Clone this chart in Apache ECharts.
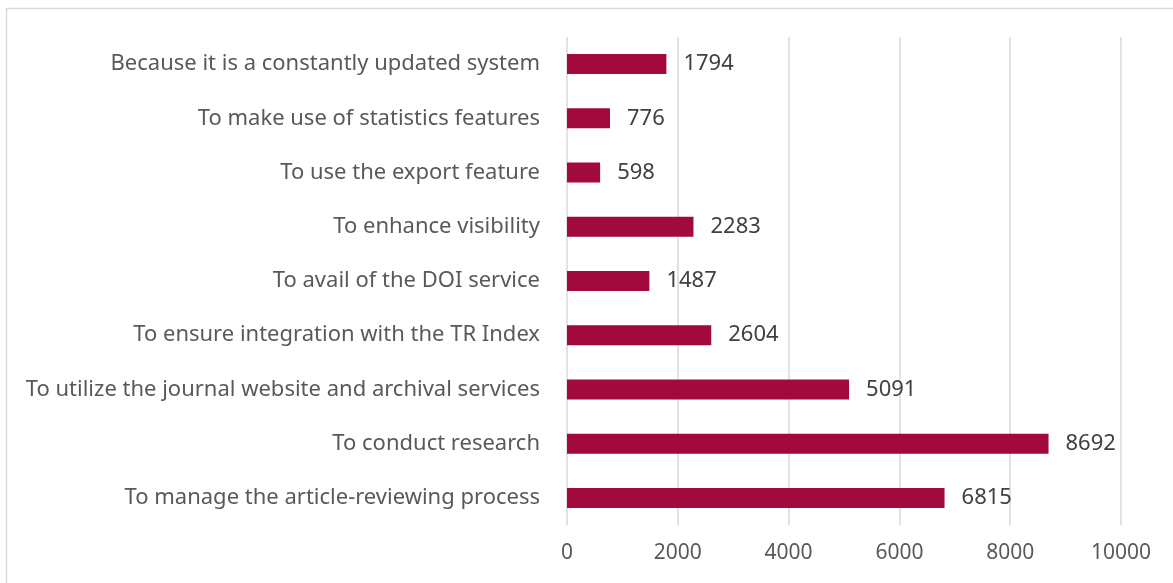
<!DOCTYPE html>
<html>
<head>
<meta charset="utf-8">
<script src="https://cdn.jsdelivr.net/npm/echarts@6/dist/echarts.min.js"></script>
<style>
  html, body { margin: 0; padding: 0; background: #fff; }
  #chart { width: 1173px; height: 583px; }
</style>
</head>
<body>
<div id="chart"></div>
<script>
// categories, listed top to bottom
const reasons = [
  'Because it is a constantly updated system',
  'To make use of statistics features',
  'To use the export feature',
  'To enhance visibility',
  'To avail of the DOI service',
  'To ensure integration with the TR Index',
  'To utilize the journal website and archival services',
  'To conduct research',
  'To manage the article-reviewing process'
];
const counts = [1794, 776, 598, 2283, 1487, 2604, 5091, 8692, 6815];
const xTicks = [0, 2000, 4000, 6000, 8000, 10000];

let myChart = echarts.init(document.getElementById('chart'));
let font = '"Noto Sans", "Open Sans", sans-serif';

let option = {
  animation: false,
  textStyle: { fontFamily: font },
  graphic: [{
    // outer frame of the chart area
    type: 'rect',
    shape: { x: 6.5, y: 8.5, width: 1200, height: 600 },
    style: { fill: 'none', stroke: '#d9d9d9', lineWidth: 1.5 }
  }],
  grid: { left: 567, right: 52, top: 37, bottom: 58 },
  xAxis: {
    type: 'value',
    min: xTicks[0],
    max: xTicks[xTicks.length - 1],
    interval: 2000,
    axisLine: { show: false },
    axisTick: { show: false },
    splitLine: { lineStyle: { color: '#d9d9d9', width: 1.5 } },
    axisLabel: {
      color: '#595959', fontSize: 21, margin: 18, fontFamily: font,
      formatter: function (v) { return String(v) }
    }
  },
  yAxis: {
    type: 'category',
    inverse: true,
    data: reasons,
    axisLine: { show: false },
    axisTick: { show: false },
    axisLabel: { color: '#595959', fontSize: 22, margin: 27, fontFamily: font }
  },
  series: [{
    type: 'bar',
    data: counts,
    barWidth: 20,
    itemStyle: { color: '#a20a3d' },
    label: {
      show: true,
      position: 'right',
      distance: 17,
      color: '#404040',
      fontSize: 22,
      fontFamily: font
    }
  }]
};
myChart.setOption(option);
window.addEventListener('resize', function () { myChart.resize() });
</script>
</body>
</html>
